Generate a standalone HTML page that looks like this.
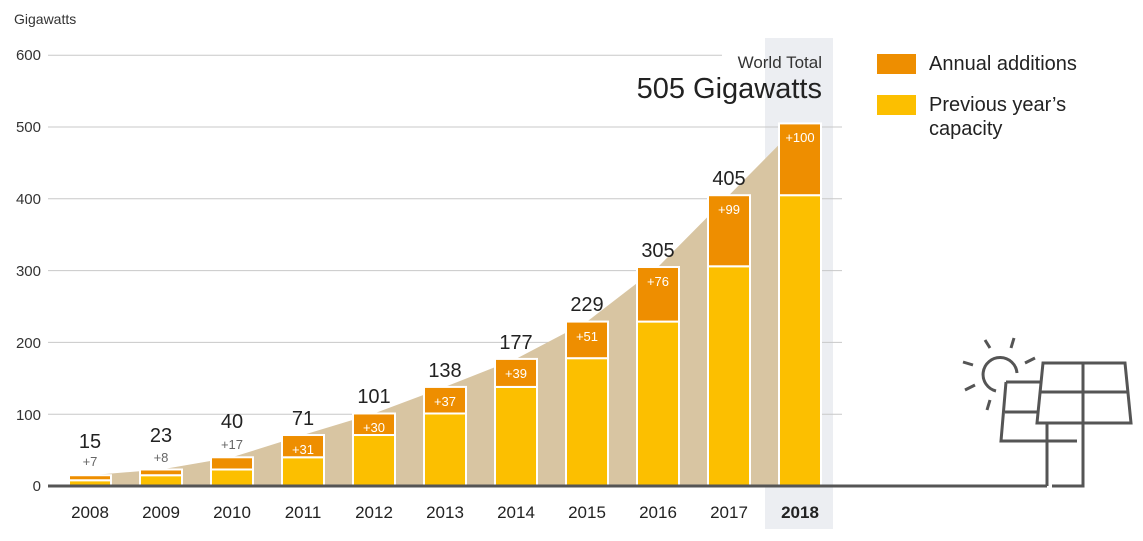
<!DOCTYPE html>
<html><head><meta charset="utf-8"><style>
body{margin:0;background:#fff;}
svg{display:block;font-family:"Liberation Sans",sans-serif;}
</style></head><body>
<svg width="1143" height="541" viewBox="0 0 1143 541">
<rect x="765" y="38" width="68" height="491" fill="#eceef2"/>
<text x="14" y="24" font-size="14" fill="#333">Gigawatts</text>
<g font-size="15" fill="#333" text-anchor="end">
<text x="41" y="491">0</text><text x="41" y="420">100</text><text x="41" y="348">200</text>
<text x="41" y="276">300</text><text x="41" y="204">400</text><text x="41" y="132">500</text><text x="41" y="60">600</text>
</g>
<g stroke="#c8c8c8" stroke-width="1">
<line x1="48" y1="414.2" x2="842" y2="414.2"/><line x1="48" y1="342.4" x2="842" y2="342.4"/>
<line x1="48" y1="270.6" x2="842" y2="270.6"/><line x1="48" y1="198.8" x2="842" y2="198.8"/>
<line x1="48" y1="127" x2="842" y2="127"/><line x1="48" y1="55.2" x2="722" y2="55.2"/>
</g>
<polygon fill="#d8c5a2" points="90,475.2 161,469.5 232,457.3 303,435 374,413.5 445,386.9 516,358.9 587,321.6 658,267 729,195.2 800,123.4 800,486 90,486"/>
<g stroke="#fff" stroke-width="2">
<rect x="69" y="480.26" width="42" height="5.74" fill="#fcbf00"/><rect x="69" y="475.23" width="42" height="5.03" fill="#ee8e00"/>
<rect x="140" y="475.23" width="42" height="10.77" fill="#fcbf00"/><rect x="140" y="469.49" width="42" height="5.74" fill="#ee8e00"/>
<rect x="211" y="469.49" width="42" height="16.51" fill="#fcbf00"/><rect x="211" y="457.28" width="42" height="12.21" fill="#ee8e00"/>
<rect x="282" y="457.28" width="42" height="28.72" fill="#fcbf00"/><rect x="282" y="435.02" width="42" height="22.26" fill="#ee8e00"/>
<rect x="353" y="435.02" width="42" height="50.98" fill="#fcbf00"/><rect x="353" y="413.48" width="42" height="21.54" fill="#ee8e00"/>
<rect x="424" y="413.48" width="42" height="72.52" fill="#fcbf00"/><rect x="424" y="386.92" width="42" height="26.56" fill="#ee8e00"/>
<rect x="495" y="386.92" width="42" height="99.08" fill="#fcbf00"/><rect x="495" y="358.91" width="42" height="28.01" fill="#ee8e00"/>
<rect x="566" y="358.2" width="42" height="127.8" fill="#fcbf00"/><rect x="566" y="321.58" width="42" height="36.62" fill="#ee8e00"/>
<rect x="637" y="321.58" width="42" height="164.42" fill="#fcbf00"/><rect x="637" y="267.01" width="42" height="54.57" fill="#ee8e00"/>
<rect x="708" y="266.29" width="42" height="219.71" fill="#fcbf00"/><rect x="708" y="195.21" width="42" height="71.08" fill="#ee8e00"/>
<rect x="779" y="195.21" width="42" height="290.79" fill="#fcbf00"/><rect x="779" y="123.41" width="42" height="71.8" fill="#ee8e00"/>
</g>
<g font-size="13" fill="#fff" text-anchor="middle">
<text x="303" y="454">+31</text><text x="374" y="432">+30</text><text x="445" y="406">+37</text>
<text x="516" y="378">+39</text><text x="587" y="341">+51</text><text x="658" y="286">+76</text>
<text x="729" y="214">+99</text><text x="800" y="142">+100</text>
</g>
<g font-size="20" fill="#222" text-anchor="middle">
<text x="90" y="448">15</text><text x="161" y="442">23</text><text x="232" y="428">40</text>
<text x="303" y="425">71</text><text x="374" y="403">101</text><text x="445" y="377">138</text>
<text x="516" y="349">177</text><text x="587" y="311">229</text><text x="658" y="257">305</text>
<text x="729" y="185">405</text>
</g>
<g font-size="13" fill="#666" text-anchor="middle">
<text x="90" y="466">+7</text><text x="161" y="462">+8</text><text x="232" y="449">+17</text>
</g>
<text x="822" y="68" font-size="17" fill="#333" text-anchor="end">World Total</text>
<text x="822" y="98" font-size="29" fill="#222" text-anchor="end">505 Gigawatts</text>
<line x1="48" y1="486" x2="1047" y2="486" stroke="#555" stroke-width="3"/>
<g font-size="17" fill="#222" text-anchor="middle">
<text x="90" y="518">2008</text><text x="161" y="518">2009</text><text x="232" y="518">2010</text>
<text x="303" y="518">2011</text><text x="374" y="518">2012</text><text x="445" y="518">2013</text>
<text x="516" y="518">2014</text><text x="587" y="518">2015</text><text x="658" y="518">2016</text>
<text x="729" y="518">2017</text><text x="800" y="518" font-weight="bold">2018</text>
</g>
<rect x="877" y="54" width="39" height="20" fill="#ee8e00"/>
<text x="929" y="70" font-size="20" fill="#222">Annual additions</text>
<rect x="877" y="95" width="39" height="20" fill="#fcbf00"/>
<text x="929" y="111" font-size="20" fill="#222">Previous year’s</text>
<text x="929" y="135" font-size="20" fill="#222">capacity</text>
<g fill="none" stroke="#555" stroke-width="3">
<path d="M1047,486 V423 M1052,486 H1083 V423"/>
<path d="M1006,382 H1040 M1006,382 L1001,441 H1077 M1005,412 H1038"/>
<path d="M1043,363 H1125 L1131,423 H1037 Z M1083,363 V423 M1040,392 H1128"/>
<path d="M1017,373 A17,17 0 1 0 996,391"/>
<path d="M985,340 L990,348 M1014,338 L1011,348 M963,362 L973,365 M1025,363 L1035,358 M965,390 L975,385 M990,400 L987,410"/>
</g>
</svg>
</body></html>
